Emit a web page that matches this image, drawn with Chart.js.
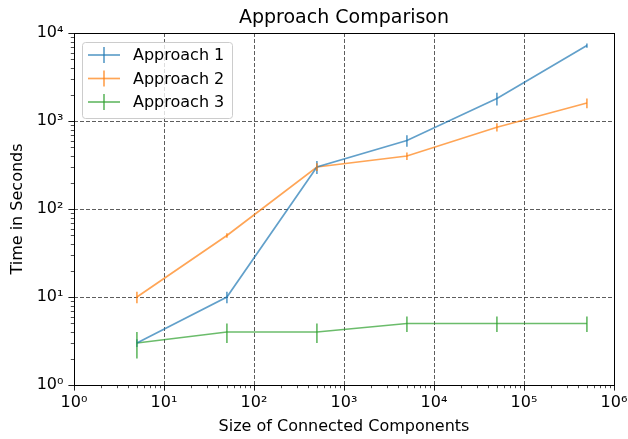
<!DOCTYPE html>
<html>
<head>
<meta charset="utf-8">
<script src="https://cdn.jsdelivr.net/npm/chart.js@4"></script>
<style>
  body { margin: 0; background: #fff; }
</style>
</head>
<body>
<canvas id="chart" width="628" height="439"></canvas>
<script>
// sizes of connected components (x) and times in seconds (y)
var sizes = [5, 50, 500, 5000, 50000, 500000];
var approach1 = [3, 10, 300, 600, 1800, 7200];
var approach2 = [10, 50, 300, 400, 850, 1600];
var approach3 = [3, 4, 4, 5, 5, 5];
// error bar half-heights
var err1 = [0.3, 1.5, 50, 90, 300, 400];
var err2 = [1.5, 3, 30, 40, 90, 200];
var err3 = [1, 1, 1, 1, 1, 1];
var seriesNames = ["Approach 1", "Approach 2", "Approach 3"];
var xTicks = [1, 10, 100, 1000, 10000, 100000, 1000000];
var yTicks = [1, 10, 100, 1000, 10000];

var colors = ['rgba(31,119,180,0.7)', 'rgba(255,127,14,0.7)', 'rgba(44,160,44,0.7)'];
var FONT = "'DejaVu Sans', sans-serif";
var sup = ['\u2070', '\u00b9', '\u00b2', '\u00b3', '\u2074', '\u2075', '\u2076'];

function pts(ys) {
    return sizes.map(function (x, i) { return {x: x, y: ys[i]}; });
}
function powLabel(v) {
    return '10' + sup[Math.round(Math.log10(v))];
}

var allErr = [err1, err2, err3];
var allY = [approach1, approach2, approach3];

var extras = {
    id: 'extras',
    beforeDatasetsDraw: function (chart) {
        var c = chart.ctx, a = chart.chartArea;
        var xs = chart.scales.x, ys = chart.scales.y;
        c.save();
        // grid lines
        c.strokeStyle = '#333';
        c.lineWidth = 0.8;
        c.setLineDash([4, 2]);
        xTicks.slice(1, -1).forEach(function (v) {
            var px = Math.round(xs.getPixelForValue(v)) + 0.5;
            c.beginPath(); c.moveTo(px, a.top); c.lineTo(px, a.bottom); c.stroke();
        });
        yTicks.slice(1, -1).forEach(function (v) {
            var py = Math.round(ys.getPixelForValue(v)) + 0.5;
            c.beginPath(); c.moveTo(a.left, py); c.lineTo(a.right, py); c.stroke();
        });
        c.restore();
    },
    afterDatasetsDraw: function (chart) {
        var c = chart.ctx, a = chart.chartArea;
        var xs = chart.scales.x, ys = chart.scales.y;
        c.save();
        // error bars
        c.lineWidth = 1.7;
        allY.forEach(function (vals, s) {
            c.strokeStyle = colors[s];
            vals.forEach(function (v, i) {
                var px = xs.getPixelForValue(sizes[i]);
                var lo = Math.max(v - allErr[s][i], 1.0001);
                c.beginPath();
                c.moveTo(px, ys.getPixelForValue(v + allErr[s][i]));
                c.lineTo(px, ys.getPixelForValue(lo));
                c.stroke();
            });
        });
        // minor ticks
        c.strokeStyle = '#000';
        c.lineWidth = 0.7;
        for (var d = 0; d < 6; d++) {
            for (var k = 2; k < 10; k++) {
                var px = Math.round(xs.getPixelForValue(k * Math.pow(10, d))) + 0.5;
                c.beginPath(); c.moveTo(px, a.bottom); c.lineTo(px, a.bottom + 3.2); c.stroke();
                if (d < 4) {
                    var py = Math.round(ys.getPixelForValue(k * Math.pow(10, d))) + 0.5;
                    c.beginPath(); c.moveTo(a.left, py); c.lineTo(a.left - 3.2, py); c.stroke();
                }
            }
        }
        // frame
        c.lineWidth = 1;
        c.strokeRect(Math.round(a.left) + 0.5, Math.round(a.top) + 0.5,
            Math.round(a.right - a.left), Math.round(a.bottom - a.top));
        // title and axis titles
        c.fillStyle = '#000';
        c.textAlign = 'center';
        c.textBaseline = 'middle';
        c.font = '19px ' + FONT;
        c.fillText('Approach Comparison', (a.left + a.right) / 2, 18);
        c.font = '16px ' + FONT;
        c.fillText('Size of Connected Components', (a.left + a.right) / 2, 427);
        c.save();
        c.translate(18, (a.top + a.bottom) / 2);
        c.rotate(-Math.PI / 2);
        c.fillText('Time in Seconds', 0, 0);
        c.restore();
        // legend
        var lx = 82, ly = 42, lw = 150, lh = 76;
        c.fillStyle = 'rgba(255,255,255,0.8)';
        c.strokeStyle = '#ccc';
        c.lineWidth = 1;
        c.beginPath();
        c.roundRect(lx + 0.5, ly + 0.5, lw, lh, 3);
        c.fill(); c.stroke();
        seriesNames.forEach(function (name, i) {
            var y = 55 + i * 23.5;
            c.strokeStyle = colors[i];
            c.lineWidth = 1.7;
            c.beginPath(); c.moveTo(88, y); c.lineTo(120, y); c.stroke();
            c.beginPath(); c.moveTo(104, y - 8); c.lineTo(104, y + 8); c.stroke();
            c.fillStyle = '#000';
            c.textAlign = 'left';
            c.fillText(name, 133, y + 1);
        });
        c.restore();
    }
};

var ctx = document.getElementById('chart').getContext('2d');
var chart = new Chart(ctx, {
    type: 'line',
    data: {
        datasets: seriesNames.map(function (name, i) {
            return {
                label: name,
                data: pts(allY[i]),
                borderColor: colors[i],
                backgroundColor: colors[i],
                borderWidth: 1.7,
                pointRadius: 0,
                tension: 0
            };
        })
    },
    options: {
        responsive: false,
        animation: false,
        layout: { padding: { left: 0, right: 14, top: 33, bottom: 0 } },
        plugins: {
            legend: { display: false },
            tooltip: { enabled: false },
            title: { display: false }
        },
        scales: {
            x: {
                type: 'logarithmic',
                min: 1, max: 1000000,
                afterBuildTicks: function (s) { s.ticks = xTicks.map(function (v) { return {value: v}; }); },
                afterFit: function (s) { s.height = 54; s.paddingLeft = 0; s.paddingRight = 0; },
                ticks: {
                    color: '#000', font: { family: FONT, size: 16 }, padding: 3,
                    maxRotation: 0, autoSkip: false,
                    callback: function (v) { return powLabel(v); }
                },
                grid: { drawOnChartArea: false, tickLength: 5.6, tickColor: '#000', tickWidth: 0.9 },
                border: { display: false }
            },
            y: {
                type: 'logarithmic',
                min: 1, max: 10000,
                afterBuildTicks: function (s) { s.ticks = yTicks.map(function (v) { return {value: v}; }); },
                afterFit: function (s) { s.width = 74; s.paddingTop = 0; s.paddingBottom = 0; },
                ticks: {
                    color: '#000', font: { family: FONT, size: 16 }, padding: 5,
                    autoSkip: false,
                    callback: function (v) { return powLabel(v); }
                },
                grid: { drawOnChartArea: false, tickLength: 5.6, tickColor: '#000', tickWidth: 0.9 },
                border: { display: false }
            }
        }
    },
    plugins: [extras]
});
</script>
</body>
</html>
